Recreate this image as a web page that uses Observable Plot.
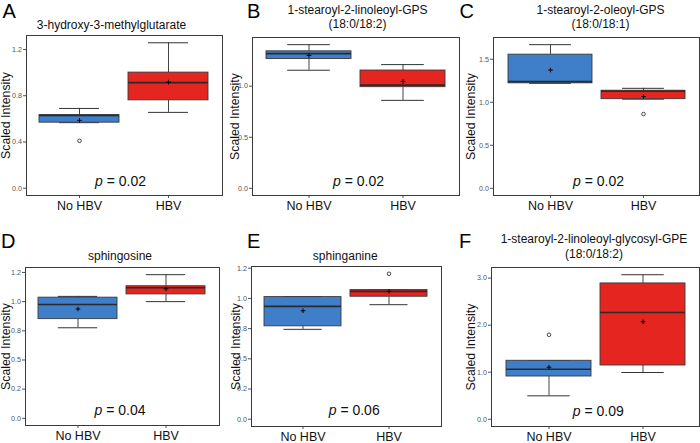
<!DOCTYPE html>
<html>
<head>
<meta charset="utf-8">
<script src="https://cdn.jsdelivr.net/npm/d3@7"></script>
<script src="https://cdn.jsdelivr.net/npm/@observablehq/plot@0.6"></script>
<style>
  html, body { margin: 0; padding: 0; background: #fff; }
  #fig { position: relative; width: 700px; height: 443px; background: #fff; overflow: hidden; }
  #fig svg { position: absolute; overflow: visible; }
</style>
</head>
<body>
<div id="fig"></div>
<script>
// ---------------- DATA ----------------
const groups = ["No HBV", "HBV"];
const letters = ["A", "B", "C", "D", "E", "F"];
const titles = [
  "3-hydroxy-3-methylglutarate",
  "1-stearoyl-2-linoleoyl-GPS\n(18:0/18:2)",
  "1-stearoyl-2-oleoyl-GPS\n(18:0/18:1)",
  "sphingosine",
  "sphinganine",
  "1-stearoyl-2-linoleoyl-glycosyl-GPE\n(18:0/18:2)"
];
const pValues = ["0.02", "0.02", "0.02", "0.04", "0.06", "0.09"];
const yLabel = "Scaled Intensity";

// per panel: [No HBV, HBV]
const whiskerLow  = [[0.567, 0.656], [1.156, 0.861], [1.220, 1.036], [0.776, 1.000], [0.744, 0.948], [0.498, 0.994]];
const q1          = [[0.567, 0.760], [1.266, 0.990], [1.220, 1.036], [0.850, 1.062], [0.769, 1.014], [0.909, 1.143]];
const medians     = [[0.630, 0.913], [1.318, 1.010], [1.240, 1.128], [0.975, 1.119], [0.934, 1.058], [1.064, 2.270]];
const q3          = [[0.632, 1.000], [1.341, 1.153], [1.553, 1.134], [1.034, 1.132], [1.011, 1.069], [1.243, 2.887]];
const whiskerHigh = [[0.690, 1.258], [1.406, 1.211], [1.669, 1.162], [1.045, 1.231], [1.014, 1.069], [1.243, 3.072]];
const means       = [[0.587, 0.918], [1.300, 1.046], [1.374, 1.067], [0.937, 1.110], [0.898, 1.058], [1.106, 2.072]];

const outlierPanel = [0, 2, 4, 5];
const outlierGroup = ["No HBV", "HBV", "HBV", "No HBV"];
const outlierValue = [0.41, 0.863, 1.204, 1.796];

const tickValues = [
  [0, 0.4, 0.8, 1.2],
  [0, 0.5, 1.0],
  [0, 0.5, 1.0, 1.5],
  [0, 0.25, 0.5, 0.75, 1.0, 1.25],
  [0, 0.25, 0.5, 0.75, 1.0, 1.25],
  [0, 1, 2, 3]
];
const tickLabels = [
  ["0.0", "0.4", "0.8", "1.2"],
  ["0.0", "0.5", "1.0"],
  ["0.0", "0.5", "1.0", "1.5"],
  ["0.0", "0.2", "0.5", "0.8", "1.0", "1.2"],
  ["0.0", "0.2", "0.5", "0.8", "1.0", "1.2"],
  ["0.0", "1.0", "2.0", "3.0"]
];

// ---------------- LAYOUT / STYLE ----------------
const groupColors = ["#3f7ec8", "#e42520"];
const font = "'Liberation Sans', Arial, Helvetica, sans-serif";
const layout = [
  {svg: [0, 0, 230, 220],   m: [26, 8, 35, 25],  letter: [2, 17],     title: [111, 28],    p: [120, 185.5],   labelLeft: 0.5},
  {svg: [230, 0, 230, 220], m: [22, 1, 37, 25],  letter: [246.5, 17], title: [357, 27.5],  p: [358, 185.5],   labelLeft: 230},
  {svg: [460, 0, 240, 220], m: [33, 1, 37, 25],  letter: [459, 17],   title: [600, 27.5],  p: [598, 185.5],   labelLeft: 466},
  {svg: [0, 220, 230, 223], m: [25, 11, 47, 18], letter: [0.5, 247],  title: [119.5, 259], p: [119.5, 414],   labelLeft: 0.5},
  {svg: [230, 220, 230, 223], m: [21, 19, 46, 17], letter: [246.5, 247], title: [344.7, 259], p: [353.7, 414], labelLeft: 231},
  {svg: [460, 220, 240, 223], m: [31, 1, 47, 17], letter: [458.5, 247], title: [593.5, 257], p: [597.8, 415],  labelLeft: 466}
];

const fig = document.getElementById("fig");

letters.forEach((letter, k) => {
  const L = layout[k];
  const [left, top, W, H] = L.svg;
  const [mL, mR, mT, mB] = L.m;
  const fx = left + mL, fy = top + mT; // frame origin (absolute)
  const frameW = W - mL - mR;

  const rows = groups.map((g, j) => ({
    group: g,
    lo: whiskerLow[k][j], q1: q1[k][j], med: medians[k][j],
    q3: q3[k][j], hi: whiskerHigh[k][j], mean: means[k][j]
  }));
  const outs = outlierPanel.map((pIdx, i) => ({panel: pIdx, group: outlierGroup[i], value: outlierValue[i]}))
    .filter(d => d.panel === k);

  const maxV = d3.max([...rows.map(d => d.hi), ...outs.map(d => d.value)]);
  const domain = [-0.05 * maxV, maxV * 1.05];

  const bandwidth = frameW / 2.2 * 0.9;
  const capInset = bandwidth / 4;

  const pSize = 14;
  const pWidth = 3.642 * pSize;
  const pStart = L.p[0] - pWidth / 2;
  const eqStart = pStart + (0.556 + 0.278) * pSize;

  const chart = Plot.plot({
    width: W, height: H,
    marginLeft: mL, marginRight: mR, marginTop: mT, marginBottom: mB,
    style: {fontFamily: font, background: "transparent", overflow: "visible"},
    x: {type: "band", domain: groups, paddingInner: 0.1, paddingOuter: 0.15},
    y: {domain},
    color: {domain: groups, range: groupColors},
    marks: [
      Plot.axisX({fontSize: 12.5, tickSize: 3, tickPadding: 3, label: null, stroke: "#555", fill: "#111"}),
      Plot.axisY({ticks: tickValues[k], tickFormat: (d, i) => tickLabels[k][i], fontSize: 7.2,
                  tickSize: 3, tickPadding: 1.5, label: null, stroke: "#555", fill: "#555"}),
      Plot.ruleX(rows, {x: "group", y1: "q3", y2: "hi", stroke: "#444", strokeWidth: 1}),
      Plot.ruleX(rows, {x: "group", y1: "lo", y2: "q1", stroke: "#444", strokeWidth: 1}),
      Plot.tickY(rows, {x: "group", y: "hi", stroke: "#333", strokeWidth: 1, insetLeft: capInset, insetRight: capInset}),
      Plot.tickY(rows, {x: "group", y: "lo", stroke: "#333", strokeWidth: 1, insetLeft: capInset, insetRight: capInset}),
      Plot.barY(rows, {x: "group", y1: "q1", y2: "q3", fill: "group", stroke: "#3a3a3a", strokeWidth: 0.9}),
      Plot.tickY(rows, {x: "group", y: "med", stroke: "#2b2b2b", strokeWidth: 1.6}),
      Plot.dot(rows, {x: "group", y: "mean", symbol: "plus", r: 1.6, stroke: "#000", strokeWidth: 1}),
      Plot.dot(outs, {x: "group", y: "value", r: 1.8, stroke: "#333", fill: "white", strokeWidth: 0.9}),
      Plot.frame({stroke: "#3a3a3a", strokeWidth: 1}),
      // letter
      Plot.text([letters[k]], {frameAnchor: "top-left", text: d => d, dx: L.letter[0] - fx, dy: L.letter[1] - fy,
        textAnchor: "start", lineAnchor: "bottom", fontSize: 20, fill: "#000"}),
      // title
      Plot.text([titles[k]], {frameAnchor: "top-left", text: d => d, dx: L.title[0] - fx, dy: L.title[1] - fy,
        textAnchor: "middle", lineAnchor: "bottom", fontSize: 12, lineHeight: 1.17, fill: "#111"}),
      // y label
      Plot.text([yLabel], {frameAnchor: "left", text: d => d, dx: L.labelLeft - fx, dy: 0, rotate: -90,
        textAnchor: "middle", lineAnchor: "top", fontSize: 12.3, fill: "#111"}),
      // p value
      Plot.text(["p"], {frameAnchor: "top-left", text: d => d, dx: pStart - fx, dy: L.p[1] - fy,
        textAnchor: "start", lineAnchor: "bottom", fontSize: pSize, fontStyle: "italic", fill: "#111"}),
      Plot.text([pValues[k]], {frameAnchor: "top-left", text: d => "= " + d, dx: eqStart - fx, dy: L.p[1] - fy,
        textAnchor: "start", lineAnchor: "bottom", fontSize: pSize, fill: "#111"})
    ]
  });
  chart.style.left = left + "px";
  chart.style.top = top + "px";
  fig.appendChild(chart);
});
</script>
</body>
</html>
